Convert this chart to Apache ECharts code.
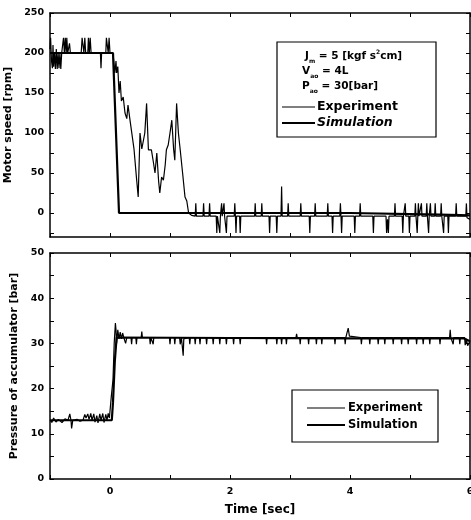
<!DOCTYPE html>
<html><head><meta charset="utf-8">
<script src="https://cdn.jsdelivr.net/npm/echarts@6/dist/echarts.min.js"></script>
<style>html,body{margin:0;padding:0;background:#fff}#c{width:471px;height:520px}</style>
</head><body><div id="c"></div>
<script>
// ---- data ----
const timeLabelValues = [0, 2, 4, 6];
const speedLabelValues = [0, 50, 100, 150, 200, 250];
const speedTickValues = [-25, 0, 25, 50, 75, 100, 125, 150, 175, 200, 225, 250];
const pressureLabelValues = [0, 10, 20, 30, 40, 50];
const seriesNames = ['Experiment', 'Simulation'];

const speedExperiment = [
  [-1.00,205],[-0.99,219],[-0.975,190],[-0.96,181],[-0.95,210],[-0.94,183],[-0.925,200],[-0.91,180],
  [-0.895,205],[-0.88,180],[-0.865,200],[-0.85,181],[-0.835,200],[-0.82,180],[-0.805,200],[-0.79,200],
  [-0.775,219],[-0.76,200],[-0.745,219],[-0.73,200],[-0.72,219],[-0.705,200],[-0.69,200],[-0.675,212],
  [-0.66,200],[-0.48,200],[-0.465,219],[-0.45,219],[-0.435,200],[-0.42,219],[-0.405,200],[-0.37,200],
  [-0.36,219],[-0.345,200],[-0.33,219],[-0.315,200],[-0.16,200],[-0.15,181],[-0.14,200],[-0.07,200],
  [-0.06,219],[-0.045,219],[-0.03,200],[-0.015,219],[0.0,200],[0.05,200],
  [0.06,200],[0.08,175],[0.10,190],[0.11,175],[0.13,183],[0.15,150],[0.17,165],[0.19,140],[0.22,145],
  [0.25,125],[0.28,118],[0.30,135],[0.33,118],[0.36,118],[0.40,80],[0.44,45],[0.47,20],[0.50,100],
  [0.53,80],[0.56,79],[0.58,100],[0.61,137],[0.64,79],[0.67,79],[0.69,79],[0.72,65],[0.75,50],[0.78,75],
  [0.81,40],[0.83,25],[0.86,45],[0.89,41],[0.92,60],[0.94,79],[0.97,85],[1.00,100],[1.03,116],[1.06,80],
  [1.08,66],[1.11,137],[1.14,100],[1.17,79],[1.21,50],[1.25,20],[1.28,15],[1.31,0],
  [1.36,-3],[1.42,-4],[1.43,12],[1.44,-4],[1.55,-4],[1.56,12],[1.57,-4],[1.65,-4],[1.66,12],[1.67,-4],
  [1.77,-4],[1.78,-25],[1.79,-4],[1.82,-4],[1.83,-25],[1.84,-4],[1.85,-4],[1.86,12],[1.87,-4],[1.89,-4],
  [1.90,12],[1.91,-4],[1.93,-4],[1.94,-25],[1.95,-4],[2.07,-4],[2.08,12],[2.09,-4],[2.10,-25],[2.11,-4],
  [2.16,-4],[2.17,-25],[2.18,-4],[2.41,-4],[2.42,12],[2.43,-4],[2.52,-4],[2.53,12],[2.54,-4],[2.65,-4],
  [2.66,-25],[2.67,-4],[2.77,-4],[2.78,-25],[2.79,-4],[2.85,-4],[2.86,33],[2.87,-4],[2.96,-4],[2.97,12],
  [2.98,-4],[3.17,-4],[3.18,12],[3.19,-4],[3.32,-4],[3.33,-25],[3.34,-4],[3.41,-4],[3.42,12],[3.43,-4],
  [3.62,-4],[3.63,12],[3.64,-4],[3.70,-4],[3.71,-25],[3.72,-4],[3.83,-4],[3.84,12],[3.85,-4],[3.86,-25],
  [3.87,-4],[4.07,-4],[4.08,-25],[4.09,-4],[4.16,-4],[4.17,12],[4.18,-4],[4.38,-4],[4.39,-25],[4.40,-4],
  [4.60,-4],[4.61,-25],[4.625,-8],[4.64,-25],[4.65,-4],[4.74,-4],[4.75,12],[4.76,-4],[4.87,-4],[4.88,-25],
  [4.89,-4],[4.91,-4],[4.92,12],[4.93,-4],[4.98,-4],[4.99,-25],[5.00,-4],[5.08,-4],[5.09,12],[5.10,-4],
  [5.12,-25],[5.13,-4],[5.14,12],[5.15,-4],[5.18,-4],[5.19,12],[5.20,-4],[5.27,-4],[5.28,12],[5.29,-4],
  [5.31,-25],[5.32,-4],[5.34,12],[5.35,-4],[5.41,-4],[5.42,12],[5.43,-4],[5.51,-4],[5.52,12],[5.53,-4],
  [5.55,-4],[5.56,-25],[5.57,-4],[5.63,-4],[5.64,-25],[5.65,-4],[5.76,-4],[5.77,12],[5.78,-4],[5.93,-4],
  [5.94,12],[5.95,-6],[6.00,-8]
];
const speedSimulation = [[-1,200],[0.05,200],[0.15,0],[4,0],[5.5,-2],[6,-3]];

const pressureExperiment = [
  [-1,13],[-0.97,12.5],[-0.94,13.5],[-0.90,12.6],[-0.86,13.2],[-0.80,12.5],[-0.75,13.3],[-0.70,13],
  [-0.67,14.4],[-0.65,13],[-0.64,11.2],[-0.62,13],[-0.55,13.2],[-0.50,12.8],[-0.45,13],[-0.42,14.3],
  [-0.40,13.5],[-0.37,14.4],[-0.35,13.2],[-0.32,14.5],[-0.30,13],[-0.27,14.4],[-0.25,12.6],[-0.22,14],
  [-0.20,12.4],[-0.17,14.4],[-0.15,13],[-0.12,14.5],[-0.10,12.5],[-0.07,14.3],[-0.05,13],[-0.03,14.5],
  [-0.01,13.5],[0.00,13.3],[0.02,18],[0.05,22],[0.07,30],[0.09,34.5],[0.10,33],[0.11,30],[0.13,33],
  [0.15,31],[0.17,32.5],[0.19,31],[0.21,32.3],[0.23,31.3],[0.26,30],[0.28,31.3],[0.35,31.3],[0.36,29.8],
  [0.37,31.3],[0.43,31.3],[0.44,29.8],[0.45,31.3],[0.52,31.3],[0.53,32.6],[0.54,31.3],[0.66,31.3],
  [0.67,29.8],[0.68,31.3],[0.71,31.3],[0.72,29.8],[0.73,31.3],[0.99,31.3],[1.00,29.8],[1.01,31.3],
  [1.07,31.3],[1.08,29.8],[1.09,31.3],[1.16,31.3],[1.17,29.8],[1.19,31.3],[1.21,31],[1.22,27.3],[1.23,31],
  [1.32,31.3],[1.33,29.8],[1.34,31.3],[1.41,31.3],[1.42,29.8],[1.43,31.3],[1.49,31.3],[1.50,29.8],
  [1.51,31.3],[1.60,31.3],[1.61,29.8],[1.62,31.3],[1.71,31.3],[1.72,29.8],[1.73,31.3],[1.82,31.3],
  [1.83,29.8],[1.84,31.3],[1.93,31.3],[1.94,29.8],[1.95,31.3],[2.05,31.3],[2.06,29.8],[2.07,31.3],
  [2.16,31.3],[2.17,29.8],[2.18,31.3],[2.60,31.3],[2.61,29.8],[2.62,31.3],[2.77,31.3],[2.78,29.8],
  [2.79,31.3],[2.85,31.3],[2.86,29.8],[2.87,31.3],[2.93,31.3],[2.94,29.8],[2.95,31.3],[3.10,31.3],
  [3.11,32.1],[3.12,31.3],[3.16,31.3],[3.17,29.8],[3.18,31.3],[3.30,31.3],[3.31,29.8],[3.32,31.3],
  [3.43,31.3],[3.44,29.8],[3.45,31.3],[3.52,31.3],[3.53,29.8],[3.54,31.3],[3.74,31.3],[3.75,29.8],
  [3.76,31.3],[3.91,31.3],[3.92,29.8],[3.93,31.3],[3.96,31.3],[3.97,33.4],[3.99,31.6],[4.18,31.3],
  [4.19,29.8],[4.20,31.3],[4.32,31.3],[4.33,29.8],[4.34,31.3],[4.46,31.3],[4.47,29.8],[4.48,31.3],
  [4.57,31.3],[4.58,29.8],[4.59,31.3],[4.71,31.3],[4.72,29.8],[4.73,31.3],[4.85,31.3],[4.86,29.8],
  [4.87,31.3],[4.96,31.3],[4.97,29.8],[4.98,31.3],[5.10,31.3],[5.11,29.8],[5.12,31.3],[5.21,31.3],
  [5.22,29.8],[5.23,31.3],[5.32,31.3],[5.33,29.8],[5.34,31.3],[5.49,31.3],[5.50,29.8],[5.51,31.3],
  [5.66,31.3],[5.67,33],[5.68,31.3],[5.71,31.3],[5.72,29.8],[5.73,31.3],[5.82,31.3],[5.83,29.8],
  [5.84,31.3],[5.91,31.3],[5.92,29.6],[5.94,31],[5.96,29.5],[5.98,29.4],[6.00,30.5]
];
const pressureSimulation = [[-1,13],[0.03,13],[0.05,17],[0.08,26],[0.11,31.3],[2,31.2],[4,31.1],[5.9,31.1],[6,30.5]];

// ---- chart ----
const FONT = 'DejaVu Sans';
const BLACK = '#000';
const lineSty = {lineStyle: {color: BLACK, width: 1.5}};
const labelSty = {fontFamily: FONT, fontWeight: 'bold', fontSize: 9.5, color: BLACK};

function xAxisFor(grid, pos, withLabels) {
  return {
    type: 'value', gridIndex: grid, position: pos, min: -1, max: 6, interval: 1,
    axisLine: Object.assign({show: true, onZero: false}, lineSty),
    axisTick: {show: true, inside: true, length: 4, lineStyle: {color: BLACK, width: 1}},
    axisLabel: withLabels ? Object.assign({show: true, margin: 8,
      formatter: v => (timeLabelValues.indexOf(v) >= 0 ? String(v) : '')}, labelSty) : {show: false},
    splitLine: {show: false},
    name: withLabels ? 'Time [sec]' : '', nameLocation: 'middle', nameGap: 25,
    nameTextStyle: {fontFamily: FONT, fontWeight: 'bold', fontSize: 12, color: BLACK}
  };
}

const option = {
  animation: false,
  backgroundColor: '#fff',
  grid: [
    {left: 50, top: 13, width: 420, height: 224, containLabel: false, outerBoundsMode: 'none'},
    {left: 50, top: 253, width: 420, height: 226, containLabel: false, outerBoundsMode: 'none'}
  ],
  xAxis: [
    xAxisFor(0, 'bottom', false), xAxisFor(0, 'top', false),
    xAxisFor(1, 'bottom', true), xAxisFor(1, 'top', false)
  ],
  yAxis: [
    {type: 'value', gridIndex: 0, position: 'left', min: -30, max: 250,
     axisLine: Object.assign({show: true, onZero: false}, lineSty),
     axisTick: {show: true, inside: true, length: 4, customValues: speedTickValues, lineStyle: {color: BLACK, width: 1}},
     axisLabel: Object.assign({show: true, margin: 6, customValues: speedLabelValues}, labelSty),
     splitLine: {show: false},
     name: 'Motor speed [rpm]', nameLocation: 'middle', nameGap: 28, nameRotate: 90,
     nameTextStyle: {fontFamily: FONT, fontWeight: 'bold', fontSize: 11, color: BLACK}},
    {type: 'value', gridIndex: 0, position: 'right', min: -30, max: 250,
     axisLine: Object.assign({show: true, onZero: false}, lineSty),
     axisTick: {show: true, inside: true, length: 4, customValues: speedTickValues, lineStyle: {color: BLACK, width: 1}},
     axisLabel: {show: false}, splitLine: {show: false}},
    {type: 'value', gridIndex: 1, position: 'left', min: 0, max: 50, interval: 5,
     axisLine: Object.assign({show: true, onZero: false}, lineSty),
     axisTick: {show: true, inside: true, length: 4, lineStyle: {color: BLACK, width: 1}},
     axisLabel: Object.assign({show: true, margin: 6,
       formatter: v => (pressureLabelValues.indexOf(v) >= 0 ? String(v) : '')}, labelSty),
     splitLine: {show: false},
     name: 'Pressure of accumulator [bar]', nameLocation: 'middle', nameGap: 28, nameRotate: 90,
     nameTextStyle: {fontFamily: FONT, fontWeight: 'bold', fontSize: 11, color: BLACK}},
    {type: 'value', gridIndex: 1, position: 'right', min: 0, max: 50, interval: 5,
     axisLine: Object.assign({show: true, onZero: false}, lineSty),
     axisTick: {show: true, inside: true, length: 4, lineStyle: {color: BLACK, width: 1}},
     axisLabel: {show: false}, splitLine: {show: false}}
  ],
  series: [
    {name: seriesNames[0], type: 'line', xAxisIndex: 0, yAxisIndex: 0, data: speedExperiment,
     showSymbol: false, lineStyle: {color: BLACK, width: 1.2}, itemStyle: {color: BLACK}},
    {name: seriesNames[1], type: 'line', xAxisIndex: 0, yAxisIndex: 0, data: speedSimulation,
     showSymbol: false, lineStyle: {color: BLACK, width: 2.2}, itemStyle: {color: BLACK}},
    {name: seriesNames[0], type: 'line', xAxisIndex: 2, yAxisIndex: 2, data: pressureExperiment,
     showSymbol: false, lineStyle: {color: BLACK, width: 1.2}, itemStyle: {color: BLACK}},
    {name: seriesNames[1], type: 'line', xAxisIndex: 2, yAxisIndex: 2, data: pressureSimulation,
     showSymbol: false, lineStyle: {color: BLACK, width: 2.2}, itemStyle: {color: BLACK}}
  ],
  graphic: [
    {type: 'rect', shape: {x: 277, y: 42, width: 159, height: 95},
     style: {fill: '#fff', stroke: BLACK, lineWidth: 1.2}, z: 10},
    {type: 'text', x: 305, y: 49, z: 11, style: {
      text: '{b|J}{s|m}{b| = 5 [kgf s}{p|2}{b|cm]}',
      rich: {b: {fontFamily: FONT, fontWeight: 'bold', fontSize: 10.5, lineHeight: 15, fill: BLACK},
             s: {fontFamily: FONT, fontWeight: 'bold', fontSize: 6, lineHeight: 15, verticalAlign: 'bottom', fill: BLACK},
             p: {fontFamily: FONT, fontWeight: 'bold', fontSize: 6, lineHeight: 15, verticalAlign: 'top', fill: BLACK}}}},
    {type: 'text', x: 302, y: 64, z: 11, style: {
      text: '{b|V}{s|ao}{b| = 4L}',
      rich: {b: {fontFamily: FONT, fontWeight: 'bold', fontSize: 10.5, lineHeight: 15, fill: BLACK},
             s: {fontFamily: FONT, fontWeight: 'bold', fontSize: 6, lineHeight: 15, verticalAlign: 'bottom', fill: BLACK}}}},
    {type: 'text', x: 302, y: 79, z: 11, style: {
      text: '{b|P}{s|ao}{b| = 30[bar]}',
      rich: {b: {fontFamily: FONT, fontWeight: 'bold', fontSize: 10.5, lineHeight: 15, fill: BLACK},
             s: {fontFamily: FONT, fontWeight: 'bold', fontSize: 6, lineHeight: 15, verticalAlign: 'bottom', fill: BLACK}}}},
    {type: 'line', shape: {x1: 282, y1: 107, x2: 315, y2: 107}, style: {stroke: BLACK, lineWidth: 1.2}, z: 11},
    {type: 'text', x: 317, y: 107, z: 11, style: {text: seriesNames[0], fontFamily: FONT, fontWeight: 'bold',
      fontSize: 12.5, fill: BLACK, verticalAlign: 'middle'}},
    {type: 'line', shape: {x1: 282, y1: 123, x2: 315, y2: 123}, style: {stroke: BLACK, lineWidth: 2.2}, z: 11},
    {type: 'text', x: 317, y: 123, z: 11, style: {text: seriesNames[1], fontFamily: FONT, fontWeight: 'bold',
      fontStyle: 'italic', fontSize: 12.5, fill: BLACK, verticalAlign: 'middle'}},
    {type: 'rect', shape: {x: 292, y: 390, width: 146, height: 52},
     style: {fill: '#fff', stroke: BLACK, lineWidth: 1.2}, z: 10},
    {type: 'line', shape: {x1: 307, y1: 408, x2: 345, y2: 408}, style: {stroke: BLACK, lineWidth: 1.2}, z: 11},
    {type: 'text', x: 348, y: 408, z: 11, style: {text: seriesNames[0], fontFamily: FONT, fontWeight: 'bold',
      fontSize: 11.5, fill: BLACK, verticalAlign: 'middle'}},
    {type: 'line', shape: {x1: 307, y1: 425, x2: 345, y2: 425}, style: {stroke: BLACK, lineWidth: 2.2}, z: 11},
    {type: 'text', x: 348, y: 425, z: 11, style: {text: seriesNames[1], fontFamily: FONT, fontWeight: 'bold',
      fontSize: 11.5, fill: BLACK, verticalAlign: 'middle'}}
  ]
};
const chart = echarts.init(document.getElementById('c'), null, {renderer: 'canvas'});
chart.setOption(option);
</script>
</body></html>
